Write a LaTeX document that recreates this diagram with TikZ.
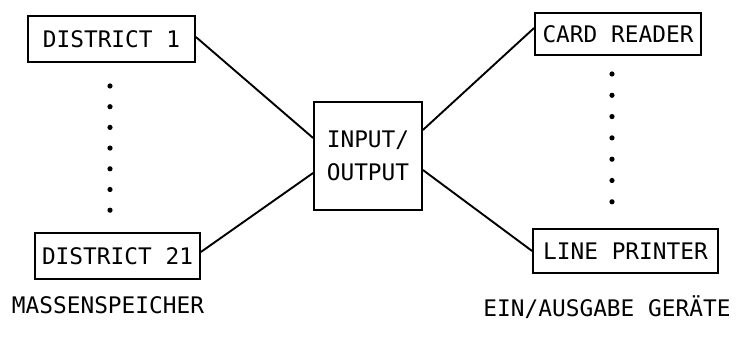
\documentclass[tikz,border=0pt]{standalone}
\usepackage{fontspec}
\setmonofont{DejaVu Sans Mono}
\usetikzlibrary{positioning}
\tikzset{unit/.style={draw, line width=0.9pt, rectangle, inner sep=0pt, minimum height=23pt, font=\ttfamily\fontsize{11.4}{16.5}\selectfont}, caption/.style={font=\ttfamily\fontsize{11.4}{14}\selectfont}, link/.style={line width=0.95pt}}

\begin{document}
\begin{tikzpicture}[x=0.5pt,y=-0.5pt]
    \useasboundingbox (0,0) rectangle (741,351);
    \node[unit,minimum width=83.5pt] (D1) at (111.5,39) {DISTRICT 1};
    \node[unit,minimum width=82.5pt] (D21) at (117.5,256) {DISTRICT 21};
    \node[unit,minimum width=54pt,minimum height=54pt,align=center] (IO) at (368,156) {INPUT/\\OUTPUT};
    \node[unit,minimum width=83pt,minimum height=21pt] (CR) at (618,34) {CARD READER};
    \node[unit,minimum width=92.5pt,minimum height=22pt] (LP) at (625.5,251) {LINE PRINTER};
    \node[caption] (MS) at (108,305) {MASSENSPEICHER};
    \node[caption] (EA) at (607,307) {EIN/AUSGABE GERÄTE};
    \foreach \i in {0,...,6} \fill (110,86+20.7*\i) circle (1.3pt);
    \foreach \i in {0,...,6} \fill (612,74+21.3*\i) circle (1.3pt);
    \draw[link] ([yshift=1pt]D1.east) -- ([yshift=9pt]IO.west);
    \draw[link] ([yshift=2pt]D21.east) -- ([yshift=-8.5pt]IO.west);
    \draw[link] ([yshift=13pt]IO.east) -- ([yshift=3pt]CR.west);
    \draw[link] ([yshift=-7pt]IO.east) -- (LP.west);
\end{tikzpicture}
\end{document}
